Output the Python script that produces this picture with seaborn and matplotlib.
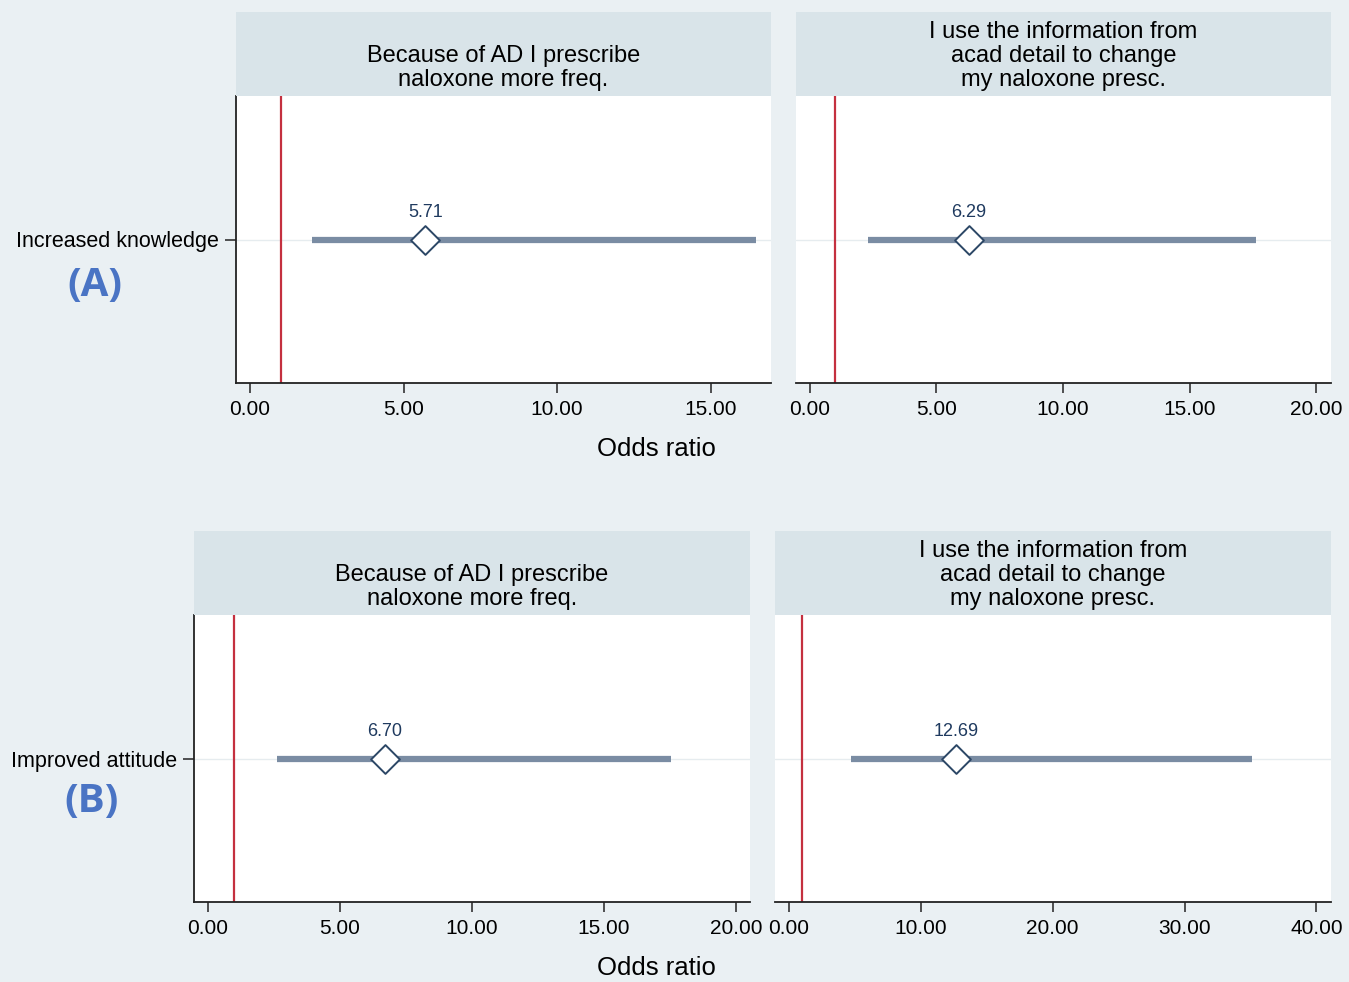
import numpy as np
import pandas as pd
import seaborn as sns
import matplotlib.pyplot as plt

# Data
row_labels = ['Increased knowledge', 'Improved attitude']
panel_tags = ['(A)', '(B)']
outcome_titles = ['Because of AD I prescribe\nnaloxone more freq.',
                  'I use the information from\nacad detail to change\nmy naloxone presc.']
odds_ratio = [5.71, 6.29, 6.70, 12.69]
ci_low = [2.02, 2.29, 2.61, 4.70]
ci_high = [16.48, 17.63, 17.54, 35.13]
ref_line = 1.0

bg = '#EAF0F3'
strip_col = '#D9E4E9'
ci_col = '#7A8CA3'
dia_col = '#2C4766'
lab_col = '#1F3A5F'
red = '#C4303F'

sns.set_theme(style='white')
plt.rcParams['font.family'] = ['Liberation Sans', 'DejaVu Sans']
plt.rcParams['text.color'] = 'black'

fig = plt.figure(figsize=(13.49, 9.82), dpi=100, facecolor=bg)
W, H = 1349, 982

# panel boxes in pixels: (left, right, strip_top, plot_top, plot_bottom)
boxes = [(236, 771, 12, 96, 383), (796, 1331, 12, 96, 383),
         (194, 750, 531, 615, 902), (775, 1331, 531, 615, 902)]
xlims = [(-0.456, 16.97), (-0.55, 20.59), (-0.53, 20.53), (-1.06, 41.1)]
xticks = [np.arange(0, 16, 5), np.arange(0, 21, 5), np.arange(0, 21, 5), np.arange(0, 41, 10)]

for i, (l, r, st, pt, pb) in enumerate(boxes):
    row = i // 2
    col = i % 2
    ax = fig.add_axes([l / W, (H - pb) / H, (r - l) / W, (pb - pt) / H])
    ax.set_facecolor('white')
    ax.axhline(0, color='#E6ECEF', lw=1, zorder=0)
    ax.axvline(ref_line, color=red, lw=1.6, zorder=1)
    seg = pd.DataFrame({'x': [ci_low[i], ci_high[i]], 'y': [0, 0]})
    sns.lineplot(data=seg, x='x', y='y', color=ci_col, lw=4.5, ax=ax, zorder=2,
                 solid_capstyle='butt')
    pt_df = pd.DataFrame({'x': [odds_ratio[i]], 'y': [0]})
    sns.scatterplot(data=pt_df, x='x', y='y', marker='D', s=215, facecolor='white',
                    edgecolor=dia_col, linewidth=1.4, ax=ax, zorder=3)
    ax.annotate(f'{odds_ratio[i]:.2f}', (odds_ratio[i], 0), xytext=(0, 13),
                textcoords='offset points', ha='center', va='bottom',
                fontsize=13, color=lab_col)
    ax.set_xlim(*xlims[i])
    ax.set_ylim(-1, 1)
    ax.set_xticks(xticks[i])
    ax.set_xticklabels([f'{t:.2f}' for t in xticks[i]])
    ax.tick_params(axis='x', bottom=True, length=7, width=1.2, color='#333333',
                   pad=5, labelsize=15, labelcolor='black')
    for s in ['top', 'right']:
        ax.spines[s].set_visible(False)
    ax.spines['bottom'].set_color('#222222')
    ax.spines['bottom'].set_linewidth(1.3)
    if col == 0:
        ax.spines['left'].set_color('#222222')
        ax.spines['left'].set_linewidth(1.3)
        ax.set_yticks([0])
        ax.set_yticklabels([row_labels[row]])
        ax.tick_params(axis='y', left=True, length=8, width=1.2, color='#333333',
                       pad=4, labelsize=15.5, labelcolor='black')
    else:
        ax.spines['left'].set_visible(False)
        ax.set_yticks([])
    ax.set_xlabel('')
    ax.set_ylabel('')

    # strip header
    hx = fig.add_axes([l / W, (H - pt) / H, (r - l) / W, (pt - st) / H])
    hx.set_facecolor(strip_col)
    hx.set_xticks([])
    hx.set_yticks([])
    for s in hx.spines.values():
        s.set_visible(False)
    hx.text(0.5, 0.06, outcome_titles[col], ha='center', va='bottom', fontsize=17,
            color='black', linespacing=1.12, transform=hx.transAxes)

fig.text(656 / W, (H - 449) / H, 'Odds ratio', ha='center', va='center', fontsize=18.5)
fig.text(656 / W, (H - 968) / H, 'Odds ratio', ha='center', va='center', fontsize=18.5)
fig.text(95 / W, (H - 285) / H, panel_tags[0], ha='center', va='center', fontsize=29,
         fontweight='bold', color='#4A74C4', family=['Open Sans', 'DejaVu Sans'])
fig.text(92 / W, (H - 802) / H, panel_tags[1], ha='center', va='center', fontsize=29,
         fontweight='bold', color='#4A74C4', family=['Open Sans', 'DejaVu Sans'])

fig.savefig('out.png', dpi=100, facecolor=bg)
